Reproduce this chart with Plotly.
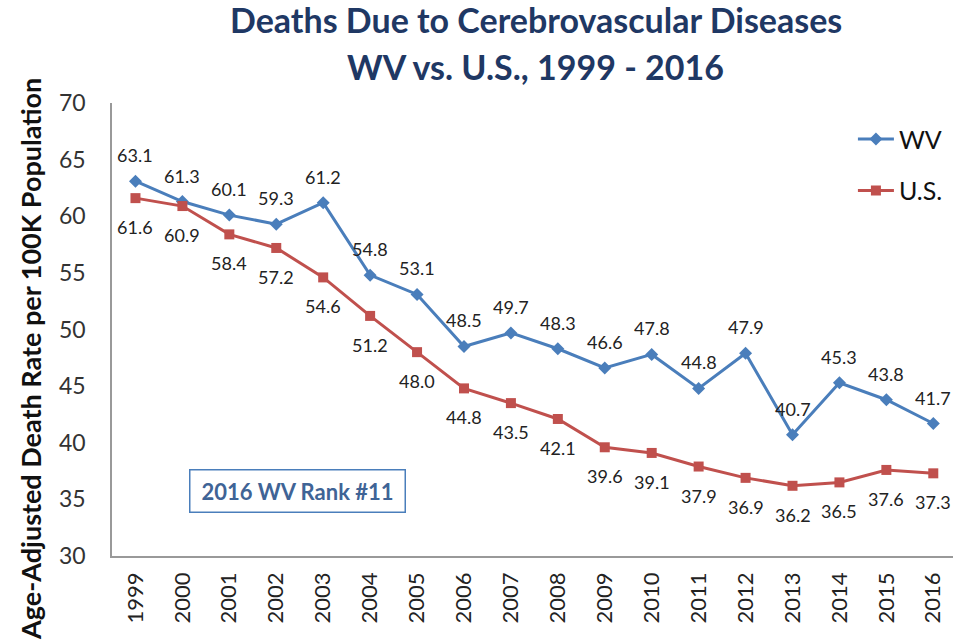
import plotly.graph_objects as go

years = [str(y) for y in range(1999, 2017)]
wv = [63.1, 61.3, 60.1, 59.3, 61.2, 54.8, 53.1, 48.5, 49.7, 48.3, 46.6, 47.8, 44.8, 47.9, 40.7, 45.3, 43.8, 41.7]
us = [61.6, 60.9, 58.4, 57.2, 54.6, 51.2, 48.0, 44.8, 43.5, 42.1, 39.6, 39.1, 37.9, 36.9, 36.2, 36.5, 37.6, 37.3]
y_ticks = [30, 35, 40, 45, 50, 55, 60, 65, 70]

FONT = "Lato"
BLUE = "#4A7EBB"
RED = "#C0504D"
xs = list(range(len(years)))

fig = go.Figure()
fig.add_trace(go.Scatter(
    x=xs, y=wv, name="WV", mode="lines+markers",
    line=dict(color=BLUE, width=3), marker=dict(symbol="diamond", size=10, color=BLUE),
    legendgroup="a",
))
fig.add_trace(go.Scatter(
    x=xs, y=us, name="U.S.", mode="lines+markers",
    line=dict(color=RED, width=3), marker=dict(symbol="square", size=10, color=RED),
    legendgroup="b",
))

# data labels
labels = []
for i, v in enumerate(wv):
    labels.append(dict(x=xs[i], y=v, text=f"{v:.1f}", showarrow=False, yshift=26,
                       xanchor="center", yanchor="middle",
                       font=dict(family=FONT, size=18, color="#222")))
for i, v in enumerate(us):
    labels.append(dict(x=xs[i], y=v, text=f"{v:.1f}", showarrow=False, yshift=-29,
                       xanchor="center", yanchor="middle",
                       font=dict(family=FONT, size=18, color="#222")))

fig.update_layout(
    width=953, height=642,
    margin=dict(l=112, r=0, t=103, b=86),
    paper_bgcolor="white", plot_bgcolor="white",
    font=dict(family=FONT, color="#222"),
    showlegend=True,
    legend=dict(x=0.881, y=0.971, xanchor="left", yanchor="top",
                font=dict(family=FONT, size=25, color="#111"),
                bgcolor="rgba(0,0,0,0)", tracegroupgap=16, itemwidth=36),
    xaxis=dict(
        range=[-0.5, 17.42], tickmode="array", tickvals=xs,
        ticktext=years, tickangle=-90, tickfont=dict(family=FONT, size=22, color="#222"),
        showgrid=False, zeroline=False, showline=True, linecolor="#999", linewidth=1.5,
        ticks="", ticklabelstandoff=6,
    ),
    yaxis=dict(
        range=[30, 70], tickvals=y_ticks, tickfont=dict(family=FONT, size=23, color="#333"),
        showgrid=False, zeroline=False, showline=True, linecolor="#999", linewidth=1.5,
        ticks="", ticklabelstandoff=20,
    ),
    annotations=labels + [
        dict(text="<b>Deaths Due to Cerebrovascular Diseases</b>", xref="paper", yref="paper",
             x=0.504, y=(556 - 20) / 453, showarrow=False, xanchor="center", yanchor="middle",
             font=dict(family=FONT, size=34, color="#1F3864")),
        dict(text="<b>WV vs. U.S., 1999 - 2016</b>", xref="paper", yref="paper",
             x=0.504, y=(556 - 66) / 453, showarrow=False, xanchor="center", yanchor="middle",
             font=dict(family=FONT, size=34, color="#1F3864")),
        dict(text="<b>Age-Adjusted Death Rate per 100K Population</b>", xref="paper", yref="paper",
             x=(30 - 112) / 841, y=(556 - 359) / 453, textangle=-90, showarrow=False,
             xanchor="center", yanchor="middle",
             font=dict(family=FONT, size=27, color="#111")),
        dict(text="<b>2016 WV Rank #11</b>", xref="paper", yref="paper",
             x=(297 - 112) / 841, y=(556 - 491) / 453, showarrow=False,
             xanchor="center", yanchor="middle", width=212, height=39,
             bordercolor=BLUE, borderwidth=1.5, bgcolor="white",
             font=dict(family=FONT, size=22, color="#3F6496")),
    ],
)

fig.write_html("out.html", config={"displayModeBar": False},
               post_script="document.body.style.margin='0';")
